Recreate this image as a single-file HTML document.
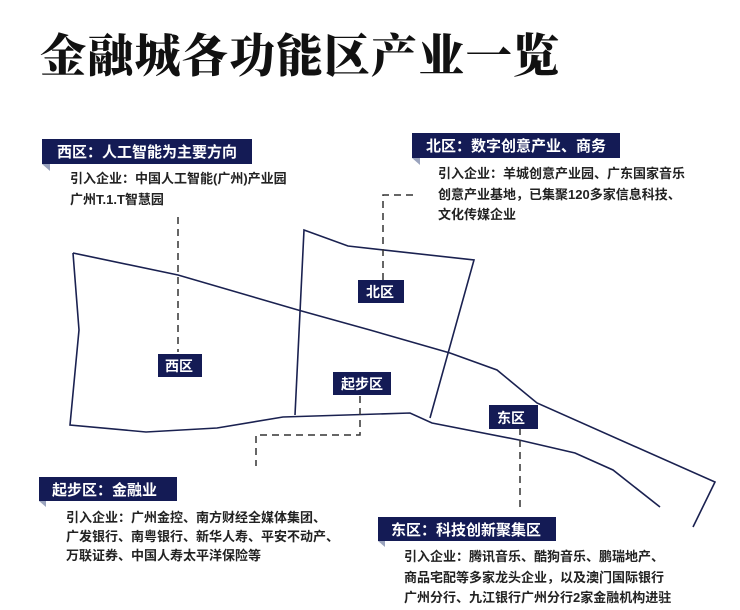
<!DOCTYPE html>
<html><head><meta charset="utf-8"><style>
html,body{margin:0;padding:0;background:#fff;}
svg{display:block}
.t{font-family:"Liberation Serif","Noto Serif CJK SC",serif;font-weight:900;}
.h{font-family:"Liberation Sans","Noto Sans CJK SC",sans-serif;font-weight:700;fill:#fff;font-size:15px;}
.b{font-family:"Liberation Sans","Noto Sans CJK SC",sans-serif;font-weight:700;fill:#222;font-size:13px;}
.l{font-family:"Liberation Sans","Noto Sans CJK SC",sans-serif;font-weight:700;fill:#fff;font-size:14px;}
</style></head><body>
<svg width="740" height="610" viewBox="0 0 740 610" xmlns="http://www.w3.org/2000/svg">
<text class="t" x="40" y="72" font-size="46" letter-spacing="1.3" fill="#111">金融城各功能区产业一览</text>

<g fill="none" stroke="#1a2150" stroke-width="1.6">
<!-- main polygon -->
<polyline points="73,253 79,330 70,425 146,432 217,428 283,417 410,413 432,423 519,440 575,453 613,470 660,507"/>
<polyline points="73,253 178,275 298,310 370,330 450,353 497,370 537,403 715,482 693,527"/>
<polyline points="295,415 304,230 348,246 474,260 430,418"/>
</g>
<g fill="none" stroke="#333" stroke-width="1.5" stroke-dasharray="7,5">
<line x1="178" y1="217" x2="178" y2="352"/>
<polyline points="413,195 383,195 383,280"/>
<polyline points="360,396 360,435 256,435 256,466"/>
<line x1="520" y1="428" x2="520" y2="507"/>
</g>

<!-- headers -->
<g fill="#141b55">
<rect x="42" y="139" width="210" height="25"/>
<rect x="412" y="133" width="208" height="25"/>
<rect x="39" y="477" width="138" height="24"/>
<rect x="378" y="517" width="178" height="24"/>
<rect x="158" y="354" width="44" height="23"/>
<rect x="358" y="280" width="46" height="23"/>
<rect x="333" y="372" width="58" height="23"/>
<rect x="489" y="405" width="49" height="24"/>
</g>
<g fill="#9aa3bd">
<polygon points="42,164 50,164 50,171"/>
<polygon points="412,158 420,158 420,165"/>
<polygon points="39,501 46,501 46,507"/>
<polygon points="378,541 385,541 385,547"/>
</g>
<text class="h" x="57" y="157">西区：人工智能为主要方向</text>
<text class="h" x="426" y="151">北区：数字创意产业、商务</text>
<text class="h" x="52" y="495">起步区：金融业</text>
<text class="h" x="391" y="535">东区：科技创新聚集区</text>

<text class="l" x="165" y="371">西区</text>
<text class="l" x="366" y="297">北区</text>
<text class="l" x="341" y="389">起步区</text>
<text class="l" x="497" y="423">东区</text>

<text class="b" x="70" y="183">引入企业：中国人工智能(广州)产业园</text>
<text class="b" x="70" y="204">广州T.1.T智慧园</text>
<text class="b" x="438" y="178">引入企业：羊城创意产业园、广东国家音乐</text>
<text class="b" x="438" y="199">创意产业基地，已集聚120多家信息科技、</text>
<text class="b" x="438" y="219">文化传媒企业</text>
<text class="b" x="66" y="522">引入企业：广州金控、南方财经全媒体集团、</text>
<text class="b" x="66" y="541">广发银行、南粤银行、新华人寿、平安不动产、</text>
<text class="b" x="66" y="560">万联证券、中国人寿太平洋保险等</text>
<text class="b" x="404" y="561">引入企业：腾讯音乐、酷狗音乐、鹏瑞地产、</text>
<text class="b" x="404" y="582">商品宅配等多家龙头企业，以及澳门国际银行</text>
<text class="b" x="404" y="602">广州分行、九江银行广州分行2家金融机构进驻</text>
</svg>
</body></html>
